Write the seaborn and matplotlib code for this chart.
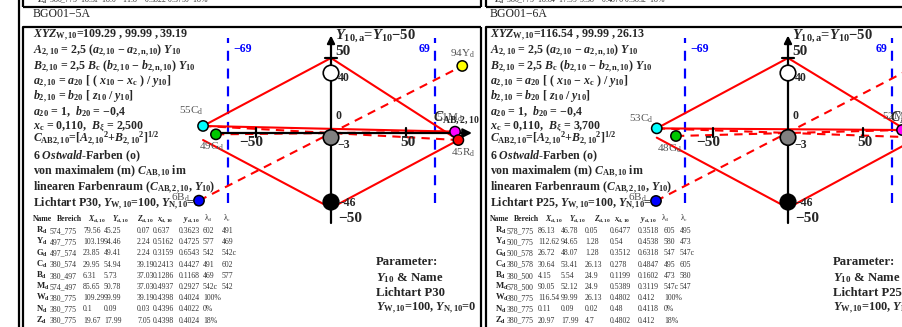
import matplotlib
matplotlib.use("Agg")
import matplotlib.pyplot as plt
import seaborn as sns

sns.set_style("white")
plt.rcParams["font.family"] = ["Liberation Serif", "DejaVu Serif"]
plt.rcParams["mathtext.fontset"] = "custom"
plt.rcParams["mathtext.rm"] = "Liberation Serif"
plt.rcParams["mathtext.it"] = "Liberation Serif:italic:bold"
plt.rcParams["mathtext.bf"] = "Liberation Serif:bold"

W, H = 902, 327

# ---- data -----------------------------------------------------------------
hue_names = ["C", "G", "B", "Y", "M", "R"]
hue_colors = ["#00ffff", "#00c800", "#0000ff", "#ffff00", "#ff00ff", "#ff0000"]

achro_y = [40, -3, -46]
achro_labels = ["40", "−3", "−46"]
achro_colors = ["#ffffff", "#808080", "#000000"]

# left panel (BGO01-5A, Lichtart P30)
p30_x = [-85.3, -76.7, -88.0, 87.5, 82.7, 84.9]
p30_y = [4.7, -0.9, -45.1, 44.7, 0.9, -4.7]
p30_num = ["55", "49", "6", "94", "51", "45"]
p30_solid = [(0, 50, -85.3, 4.7), (0, 50, 84.9, -4.7), (0, -50, -85.3, -4.7),
             (0, -50, 84.9, -4.7), (-85.3, 4.7, 82.7, 0.9)]
p30_dashed = [(-85.3, 4.7, 84.9, -4.7), (-88.0, -45.1, 87.5, 44.7),
              (-76.7, -0.9, 82.7, 0.9)]

# right panel (BGO01-6A, Lichtart P25)
p25_x = [-87.5, -74.7, -88.0, 88.0, 76.0, 87.0]
p25_y = [3.1, -2.0, -45.3, 46.0, 2.0, -3.0]
p25_num = ["53", "48", "6", "94", "52", "47"]
p25_solid = [(0, 50, -87.5, 3.1), (0, 50, 87.0, -3.0), (0, -50, -87.5, -3.1),
             (0, -50, 87.0, -3.0), (-87.5, 3.1, 76.0, 2.0)]
p25_dashed = [(-87.5, 3.1, 87.0, -3.0), (-88.0, -45.3, 88.0, 46.0),
              (-74.7, -2.0, 76.0, 2.0)]

p30_params = ["109.29 , 99.99 , 39.19", "2,500", "P30"]
p25_params = ["116.54 , 99.99 , 26.13", "3,700", "P25"]

table_names = ["R", "Y", "G", "C", "B", "M", "W", "N", "Z"]
p30_table = [
    ["574_775", "79.56", "45.25", "0.07", "0.637", "0.3623", "602", "491"],
    ["497_775", "103.19", "94.46", "2.24", "0.5162", "0.4725", "577", "469"],
    ["497_574", "23.85", "49.41", "2.24", "0.3159", "0.6543", "542", "542c"],
    ["380_574", "29.95", "54.94", "39.19", "0.2413", "0.4427", "491", "602"],
    ["380_497", "6.31", "5.73", "37.03", "0.1286", "0.1168", "469", "577"],
    ["574_497", "85.65", "50.78", "37.03", "0.4937", "0.2927", "542c", "542"],
    ["380_775", "109.29", "99.99", "39.19", "0.4398", "0.4024", "100%", ""],
    ["380_775", "0.1", "0.09", "0.03", "0.4396", "0.4022", "0%", ""],
    ["380_775", "19.67", "17.99", "7.05", "0.4398", "0.4024", "18%", ""],
]
p25_table = [
    ["578_775", "86.13", "46.78", "0.05", "0.6477", "0.3518", "605", "495"],
    ["500_775", "112.62", "94.65", "1.28", "0.54", "0.4538", "580", "473"],
    ["500_578", "26.72", "48.07", "1.28", "0.3512", "0.6318", "547", "547c"],
    ["380_578", "30.64", "53.41", "26.13", "0.278", "0.4847", "495", "605"],
    ["380_500", "4.15", "5.54", "24.9", "0.1199", "0.1602", "473", "580"],
    ["578_500", "90.05", "52.12", "24.9", "0.5389", "0.3119", "547c", "547"],
    ["380_775", "116.54", "99.99", "26.13", "0.4802", "0.412", "100%", ""],
    ["380_775", "0.11", "0.09", "0.02", "0.48", "0.4118", "0%", ""],
    ["380_775", "20.97", "17.99", "4.7", "0.4802", "0.412", "18%", ""],
]
p30_topline = "380_775  18.51  18.0    11.8    0.3822 0.3750  18%"
p25_topline = "380_775  18.84  17.99  5.38    0.4876 0.3892  18%"

# ---- figure ------------------------------------------------------------------
fig = plt.figure(figsize=(W / 100, H / 100), dpi=100)
bg = fig.add_axes([0, 0, 1, 1], zorder=0)
bg.set_xlim(0, W)
bg.set_ylim(H, 0)
bg.axis("off")

FRAME = dict(color="black", lw=1.6, solid_capstyle="butt")
bg.plot([19, 19], [0, H], **FRAME)
for x0, x1 in [(23, 481), (486, W + 5)]:
    bg.plot([x0, x0], [0, 7], **FRAME)
    bg.plot([x0, x1], [7, 7], **FRAME)
    bg.plot([x0, x0, x1], [H, 27, 27], **FRAME)
    if x1 < W:
        bg.plot([x1, x1], [0, 7], **FRAME)
        bg.plot([x1, x1], [27, H], **FRAME)

line_y = [38, 54, 70, 85, 100, 115, 129, 142, 159, 175, 191, 207]
hdr_x = [0, 24, 55, 79, 104, 124, 150, 171, 190]
FS = 8.6


def text_block(ox, params, title, topline, table, cols, name_x):
    xyz, bxi, light = params
    bg.text(ox + 4, 2.5, r"$\mathbf{Z}_{\mathbf{d}}$  " + topline, fontsize=5.6,
            color="#333333", va="baseline")
    bg.text(ox, 17, title, fontsize=8.5, color="#222222", va="baseline")
    lines = [
        r"$XYZ_{\mathbf{W,10}}$=" + xyz,
        r"$A_{\mathbf{2,10}}$ = 2,5 ($a_{\mathbf{2,10}}$ − $a_{\mathbf{2,n,10}}$) $Y_{\mathbf{10}}$",
        r"$B_{\mathbf{2,10}}$ = 2,5 $B_{\mathbf{c}}$ ($b_{\mathbf{2,10}}$ − $b_{\mathbf{2,n,10}}$) $Y_{\mathbf{10}}$",
        r"$a_{\mathbf{2,10}}$ = $a_{\mathbf{20}}$ [ ( $x_{\mathbf{10}}$ − $x_{\mathbf{c}}$ ) / $y_{\mathbf{10}}$]",
        r"$b_{\mathbf{2,10}}$ = $b_{\mathbf{20}}$ [ $z_{\mathbf{10}}$ / $y_{\mathbf{10}}$]",
        r"$a_{\mathbf{20}}$ = 1,  $b_{\mathbf{20}}$ = −0,4",
        r"$x_{\mathbf{c}}$ = 0,110,  $B_{\xi}$ = " + bxi,
        r"$C_{\mathbf{AB2,10}}$=[$A_{\mathbf{2,10}}$$^{\mathbf{2}}$+$B_{\mathbf{2,10}}$$^{\mathbf{2}}$]$^{\mathbf{1/2}}$",
        r"6 $Ostwald$-Farben (o)",
        r"von maximalem (m) $C_{\mathbf{AB,10}}$ im",
        r"linearen Farbenraum ($C_{\mathbf{AB,2,10}}$, $Y_{\mathbf{10}}$)",
        r"Lichtart " + light + r", $Y_{\mathbf{W,10}}$=100, $Y_{\mathbf{N,10}}$=0",
    ]
    for s, y in zip(lines, line_y):
        bg.text(ox, y, s, fontsize=FS, fontweight="bold", va="baseline")
    hdr = ["Name", "Bereich", r"$X_{\mathbf{d,10}}$", r"$Y_{\mathbf{d,10}}$",
           r"$Z_{\mathbf{d,10}}$", r"$x_{\mathbf{d,10}}$", r"$y_{\mathbf{d,10}}$",
           r"$\mathrm{λ}_{\mathrm{d}}$", r"$\mathrm{λ}_{\mathrm{c}}$"]
    for s, dx in zip(hdr, hdr_x):
        bg.text(ox + dx, 221, s, fontsize=5.6, fontweight="bold",
                color="#222222", va="baseline")
    for i, (nm, row) in enumerate(zip(table_names, table)):
        y = 233 + i * 11.2
        bg.text(name_x, y, r"$\mathbf{" + nm + r"}_{\mathbf{d}}$", fontsize=6.2,
                color="#222222", va="baseline")
        for s, cx in zip(row, cols):
            bg.text(cx, y, s, fontsize=5.6, color="#333333", va="baseline")
    pb = ox + 343
    bg.text(pb, 265, "Parameter:", fontsize=9.2, fontweight="bold", va="baseline")
    bg.text(pb, 281, r"$Y_{\mathbf{10}}$ & Name", fontsize=9.2, fontweight="bold",
            va="baseline")
    bg.text(pb, 296, "Lichtart " + light, fontsize=9.2, fontweight="bold", va="baseline")
    bg.text(pb, 311, r"$Y_{\mathbf{W,10}}$=100, $Y_{\mathbf{N,10}}$=0", fontsize=8.8,
            fontweight="bold", va="baseline")


text_block(33, p30_params, "BGO01−5A", p30_topline, p30_table,
           [50, 83, 104, 137, 153, 179, 203, 222], 36)
text_block(490, p25_params, "BGO01−6A", p25_topline, p25_table,
           [507, 538, 561, 585, 610, 638, 664, 680], 495)


def diagram(x_left, x_right, cx, px, py, nums, solid, dashed, lab_off):
    s = 1.5
    cy = 133
    ax = fig.add_axes([x_left / W, 0, (x_right - x_left) / W, (H - 27) / H], zorder=1)
    ax.set_xlim((x_left - cx) / s, (x_right - cx) / s)
    ax.set_ylim((cy - H) / s, (cy - 27) / s)
    ax.axis("off")

    for xb in (-69, 69):
        ax.plot([xb, xb], [-47, 63], color="#0000ff", lw=1.6, dashes=(4.5, 3.5), zorder=1)
    ax.text(-69 + 4, 56, "−69", color="#0000ff", fontsize=8.5, fontweight="bold",
            va="center")
    ax.text(69 - 3, 56, "69", color="#0000ff", fontsize=8.5, fontweight="bold",
            va="center", ha="right")

    # axes with arrows
    ax.annotate("", xy=(94, 0), xytext=(-77, 0),
                arrowprops=dict(arrowstyle="-|>", lw=1.6, color="black",
                                mutation_scale=13, shrinkA=0, shrinkB=0), zorder=2)
    ax.annotate("", xy=(0, 65), xytext=(0, -60),
                arrowprops=dict(arrowstyle="-|>", lw=1.6, color="black",
                                mutation_scale=11, shrinkA=0, shrinkB=0), zorder=2)
    for t in (-50, 50):
        ax.plot([t, t], [-3, 3], color="black", lw=1.6, zorder=2)
    ax.plot([-4, 4], [50, 50], color="black", lw=1.6, zorder=2)
    ax.text(-53, -6.5, "−50", fontsize=11, fontweight="bold", ha="center", va="center")
    ax.text(51, -6.5, "50", fontsize=11, fontweight="bold", ha="center", va="center")
    ax.text(3, 54.5, "50", fontsize=11, fontweight="bold", va="center")
    ax.text(4.5, -57, "−50", fontsize=11, fontweight="bold", va="center")
    ax.text(2.5, 64.5, r"$Y_{\mathbf{10,a}}$=$Y_{\mathbf{10}}$−50", fontsize=10.5,
            fontweight="bold", va="center")
    ax.text(68, 10, r"$C_{\mathbf{AB,2,10}}$", fontsize=10, fontweight="bold",
            va="center", clip_on=True, zorder=5)

    for x0, y0, x1, y1 in solid:
        ax.plot([x0, x1], [y0, y1], color="#ff0000", lw=1.5, zorder=1.5)
    for x0, y0, x1, y1 in dashed:
        ax.plot([x0, x1], [y0, y1], color="#ff0000", lw=1.5, dashes=(4, 3), zorder=1.5)

    sns.scatterplot(x=[0, 0, 0], y=achro_y, hue=achro_labels, palette=achro_colors,
                    s=125, edgecolor="black", linewidth=1.2, legend=False, ax=ax,
                    zorder=3)
    for yv, lab, dy in zip(achro_y, achro_labels, (-3.5, -5, -0.5)):
        ax.text(4.5, yv + dy, lab, fontsize=8.5, fontweight="bold", va="center", zorder=4)
    ax.text(3, 11.5, "0", fontsize=8.5, fontweight="bold", va="center")

    sns.scatterplot(x=px, y=py, hue=hue_names, palette=hue_colors, s=55,
                    edgecolor="black", linewidth=1.1, legend=False, ax=ax, zorder=4)
    for xv, yv, n, nm, (dx, dy, ha) in zip(px, py, nums, hue_names, lab_off):
        ax.text(xv + dx, yv + dy, n + nm + r"$_{\mathrm{d}}$", fontsize=8,
                color="#555555", ha=ha, va="center", zorder=4, clip_on=True)
    return ax


p30_off = [(0.5, 10, "right"), (-3, -8, "center"), (-6, 2, "right"),
           (0, 8, "center"), (-13, 9, "left"), (3, -8.5, "center")]
p25_off = [(-2, 6.5, "right"), (-4, -8.7, "center"), (-6, 2, "right"),
           (0, 8, "center"), (-13, 9, "left"), (3, -8.5, "center")]

diagram(23, 481, 331, p30_x, p30_y, p30_num, p30_solid, p30_dashed, p30_off)
diagram(486, W, 788, p25_x, p25_y, p25_num, p25_solid, p25_dashed, p25_off)

fig.savefig("out.png", dpi=100)
